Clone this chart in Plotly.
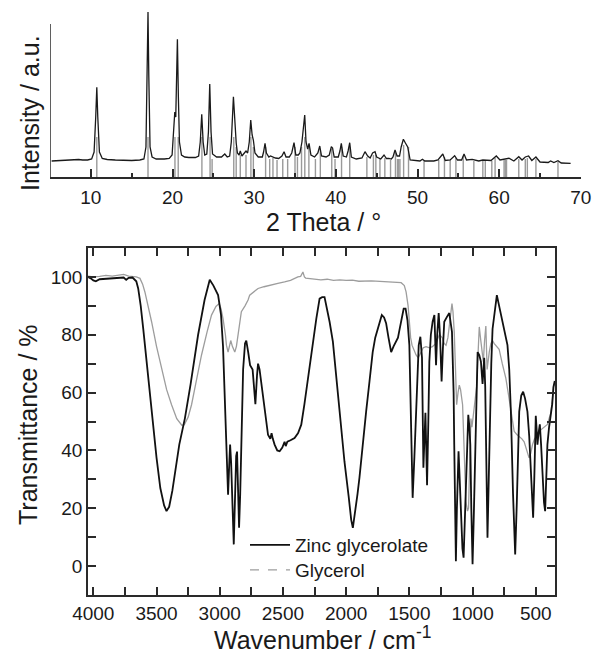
import plotly.graph_objects as go

# ---------------- XRD data (2 Theta / degree, intensity a.u.) ----------------
xrd_2theta = [5.2, 6, 7, 8, 8.5, 9, 9.6, 10.1, 10.4, 10.6, 10.73, 10.85, 11.05, 11.4, 12, 13, 14, 15, 16, 16.5,
              16.75, 16.9, 17.0, 17.1, 17.25, 17.5, 18, 19, 19.6, 19.95, 20.15, 20.28, 20.4, 20.5, 20.6, 20.72,
              20.85, 21.1, 21.5, 22, 22.8, 23.2, 23.4, 23.58, 23.75, 23.95, 24.2, 24.4, 24.56, 24.72, 24.9, 25.4,
              26, 26.4, 26.7, 27.0, 27.2, 27.46, 27.65, 27.8, 27.95, 28.15, 28.3, 28.5, 28.8, 29.0, 29.2, 29.4,
              29.58, 29.75, 29.9, 30.1, 30.5, 31.0, 31.15, 31.33, 31.5, 31.8, 32.0, 32.3, 32.6, 33.0, 33.4, 33.66,
              33.9, 34.3, 34.6, 34.88, 35.1, 35.4, 35.6, 35.85, 36.05, 36.19, 36.35, 36.55, 36.72, 36.95, 37.4,
              37.8, 38.03, 38.25, 38.8, 39.2, 39.45, 39.6, 39.8, 40.3, 40.5, 40.67, 40.9, 41.3, 41.5, 41.7, 41.9,
              42.5, 43.2, 43.57, 43.9, 44.2, 44.5, 44.8, 45.0, 45.5, 45.9, 46.2, 46.5, 46.8, 47.0, 47.25, 47.5,
              47.8, 48.0, 48.27, 48.5, 48.8, 49.1, 49.5, 50.3, 50.6, 50.9, 52, 52.5, 53.1, 53.4, 54.0, 54.55,
              54.9, 55.4, 55.7, 56.0, 56.7, 57.5, 58.0, 58.5, 59.0, 59.65, 60.1, 61.2, 61.8, 62.4, 62.8, 63.2,
              63.6, 64.0, 64.5, 65.0, 66.0, 66.3, 66.7, 67.2, 67.6, 68.75]
xrd_intensity = [16, 16.5, 17, 17, 17.5, 17, 17, 18, 25, 60, 89.7, 60, 25, 18.5, 17.5, 17, 16.5, 16.5, 17, 18,
                 30, 100, 165, 100, 30, 20, 18, 18, 18.5, 22, 45, 65, 60, 90, 137.7, 80,
                 35, 22, 20, 19.5, 19.5, 21, 35, 62.7, 35, 22, 23, 45, 93, 45, 23, 20,
                 20, 23, 20, 21, 35, 80.3, 45, 34, 24, 22, 26, 21, 24, 26, 24, 35,
                 57, 42, 37, 24, 20, 20, 25, 33.7, 24, 20, 21, 20, 19, 18.5, 21, 25.3,
                 20, 20, 24, 34.3, 22, 22, 24, 35, 55, 62, 35, 28, 33.7, 22, 20,
                 24, 31, 21, 20, 22, 30.3, 29, 20, 20, 26, 33.7, 21, 20, 26, 34.3, 20,
                 18, 19, 25.3, 21, 19, 24, 25.3, 20, 18, 22, 18.5, 18.7, 18, 20, 27, 21,
                 21, 30, 37.7, 34.3, 30, 17, 16.5, 16, 17.7, 16, 16, 17, 23, 16.5, 17, 21.3,
                 17, 17, 23, 17, 17.7, 16, 17, 17, 16.5, 21, 17, 18.7, 16, 20.3, 17, 20,
                 21, 16.5, 20, 15, 14.5, 16, 14.5, 16.3, 14, 13.7]

# reference pattern sticks
ref_2theta = [10.73, 17.0, 20.3, 20.7, 23.6, 24.6, 24.85, 27.5, 27.8, 28.3, 29.0, 29.6, 29.9, 31.4, 31.9, 32.3,
              32.8, 33.5, 34.1, 35.0, 35.3, 35.8, 36.2, 36.7, 37.5, 38.1, 39.5, 39.9, 40.7, 41.7, 43.8, 44.6,
              44.9, 45.4, 46.0, 46.7, 47.3, 47.55, 47.7, 47.85, 48.3, 48.9, 50.8, 52.6, 53.3, 54.0, 54.7, 55.6,
              56.9, 58.0, 58.3, 59.1, 59.5, 60.6, 60.75, 60.9, 62.4, 63.2, 63.45, 64.5, 67.2]
ref_height = [40, 40, 40, 40, 40, 40, 18, 40, 30, 22, 22, 40, 30, 30, 18, 19,
              17, 18, 18, 30, 20, 30, 40, 30, 18, 28, 28, 18, 30, 30, 20, 22,
              22, 18, 19, 17, 24, 18, 18, 18, 32, 30, 16, 17, 20, 17, 19, 21,
              16, 16, 16, 16, 19, 17, 17, 17, 18, 18, 19, 18, 15]

# ---------------- IR data (wavenumber / cm-1, transmittance / %) ----------------
zn_wn = [4045, 4020, 4000, 3980, 3950, 3900, 3850, 3800, 3760, 3740, 3720, 3690, 3660, 3645, 3625, 3605, 3580,
         3552, 3525, 3500, 3470, 3440, 3421, 3400, 3375, 3355, 3320, 3276, 3230, 3171, 3120, 3079, 3050, 3013,
         2990, 2974, 2962, 2950, 2940, 2934, 2925, 2918, 2910, 2900, 2889, 2880, 2870, 2863, 2855, 2847, 2838,
         2828, 2815, 2800, 2790, 2775, 2760, 2740, 2725, 2718, 2705, 2697, 2685, 2670, 2658, 2640, 2618, 2600,
         2590, 2580, 2566, 2545, 2526, 2505, 2487, 2478, 2465, 2440, 2408, 2380, 2355, 2330, 2303, 2270, 2236,
         2210, 2190, 2171, 2150, 2131, 2105, 2085, 2066, 2040, 2013, 1980, 1960, 1947, 1930, 1910, 1895, 1870,
         1842, 1815, 1790, 1770, 1750, 1730, 1718, 1700, 1684, 1665, 1644, 1625, 1605, 1590, 1579, 1560, 1545,
         1530, 1515, 1500, 1488, 1474, 1460, 1447, 1435, 1426, 1413, 1400, 1389, 1380, 1373, 1366, 1360, 1350,
         1342, 1330, 1316, 1302, 1295, 1289, 1280, 1268, 1258, 1245, 1235, 1224, 1205, 1184, 1163, 1150, 1145,
         1138, 1132, 1124, 1118, 1111, 1100, 1090, 1080, 1071, 1062, 1053, 1043, 1034, 1025, 1018, 1010, 1000,
         990, 979, 970, 960, 947, 934, 921, 915, 908, 900, 893, 882, 872, 863, 852, 842, 825, 808, 790, 763,
         740, 724, 710, 697, 680, 663, 650, 640, 631, 615, 600, 585, 566, 552, 539, 530, 521, 512, 505, 500,
         493, 487, 478, 468, 458, 447, 435, 426, 418, 408, 395, 381, 370, 360, 350]
zn_t = [100, 99.5, 98.8, 98.5, 99.2, 99.3, 99.6, 99.5, 99.8, 99.0, 99.7, 99.8, 98.5, 96, 90, 82, 71,
        59, 47, 37.5, 27, 21, 19, 20.5, 26, 31.6, 42, 51, 63, 80, 92, 99, 97, 93.7,
        87, 76, 60, 40, 27, 24.7, 35, 42, 36, 18, 7.5, 22, 38, 39.6, 28, 13.3, 25,
        50, 68, 77, 78, 74, 69.5, 68, 58, 56, 66, 70, 68, 63, 59, 52, 45.4, 44,
        46, 44, 42, 40, 39.7, 41, 43, 41.5, 43, 43.5, 44.3, 46, 48.9, 56, 65, 76, 85.6,
        92.5, 93, 93, 89, 84.5, 77.6, 68, 59, 47, 36, 24, 16, 13.2, 18, 25, 30.5, 42,
        53.4, 64, 74, 79, 82.2, 85.5, 86.8, 86, 84, 79, 74, 76, 78, 79, 81.5, 86, 89,
        89, 85, 76.4, 55, 23.6, 38, 53, 70, 76.4, 79.3, 72, 34, 50, 53, 40, 28, 50,
        70.7, 80, 84.5, 86.8, 78, 69.5, 80, 87.5, 80, 63.8, 75, 84.5, 86, 87.5, 81, 60, 42,
        20, 1.7, 20, 35, 39.7, 28, 15.5, 6, 2.9, 15, 31, 45, 52.3, 48, 42, 20, 0.6,
        18, 42, 60, 74, 73, 70.7, 63, 68, 72, 62, 45, 9.8, 30, 53.5, 70, 82, 89, 93.7, 90, 84.5,
        80, 76.4, 68, 53.4, 25, 4, 22, 40, 53.4, 59, 60.3, 58, 53.4, 45, 35, 25, 16.7, 30, 45, 52,
        47, 42, 46, 49, 42, 31, 22, 19, 30, 42, 48, 52, 56, 62, 64]

gly_wn = [4045, 4000, 3950, 3900, 3850, 3800, 3760, 3720, 3660, 3631, 3610, 3592, 3565, 3539, 3500, 3460, 3420,
          3381, 3340, 3300, 3280, 3250, 3223, 3190, 3144, 3100, 3065, 3030, 3005, 2990, 2974, 2955, 2947, 2934,
          2925, 2913, 2900, 2881, 2868, 2855, 2840, 2829, 2800, 2776, 2763, 2730, 2697, 2650, 2592, 2540, 2487,
          2440, 2382, 2360, 2342, 2330, 2320, 2300, 2250, 2200, 2150, 2100, 2050, 2000, 1950, 1900, 1800, 1700,
          1600, 1565, 1540, 1526, 1510, 1500, 1490, 1479, 1460, 1447, 1430, 1410, 1390, 1368, 1340, 1318, 1290,
          1263, 1240, 1225, 1210, 1195, 1184, 1170, 1163, 1155, 1145, 1135, 1126, 1115, 1105, 1095, 1079, 1065,
          1053, 1040, 1032, 1020, 1013, 1005, 995, 980, 968, 955, 947, 935, 925, 915, 905, 895, 885, 875, 868,
          855, 842, 830, 816, 800, 790, 765, 737, 715, 697, 680, 671, 650, 631, 610, 592, 570, 553, 540, 526,
          510, 490, 474, 450, 434, 420, 408, 395, 381, 370, 360, 350]
gly_t = [100.3, 100, 100.2, 100.5, 100.3, 100.6, 100.9, 100.3, 100, 99.5, 97.5, 94.8, 90, 84.5, 76, 68.4, 61,
         55.8, 51, 48.7, 48.9, 51.5, 55.8, 63, 73, 81, 86.8, 89.8, 90.8, 89, 85.6, 80, 76.4, 74,
         76, 78, 76, 74, 76, 79.5, 85, 88, 90, 92, 93.7, 95, 96, 96.6, 97.1, 97.8, 98.3,
         98.8, 100, 100.2, 101.7, 100, 99.6, 99.5, 99.2, 99, 99.2, 98.8, 99, 98.8, 98.9, 98.5, 98.6, 98.3,
         98, 98, 97, 94.8, 90, 84.5, 79, 76.4, 74, 73, 72, 74, 75.5, 75.9, 75.5, 75.9, 77,
         80, 79, 77, 76.4, 79, 83, 89, 90.8, 88, 81, 68, 55.8, 60, 62.6, 61, 55.8, 38,
         22.4, 19, 20, 40, 51, 48, 52, 58, 62, 75, 82.7, 78, 73, 70.7, 78, 83, 68, 72, 74,
         77, 78, 77, 76.4, 75.5, 75, 70, 65, 59, 53.4, 49, 46.6, 45.5, 44.8, 44, 43, 40, 37.4, 39, 42,
         44, 45, 46.6, 47.5, 48, 48.5, 49, 51, 53, 57, 62, 63]

FONT = "Liberation Sans, Arial, Helvetica, sans-serif"
AXC = "#2a2a2a"
TXT = "#1a1a1a"
W, H = 592, 655

fig = go.Figure()

# reference sticks (gray)
stick_x, stick_y = [], []
for p, h in zip(ref_2theta, ref_height):
    stick_x += [p, p, None]
    stick_y += [0, h, None]
fig.add_trace(go.Scatter(x=stick_x, y=stick_y, mode="lines", line=dict(color="#9a9a9a", width=1.4),
                         showlegend=False, hoverinfo="skip", xaxis="x", yaxis="y"))
fig.add_trace(go.Scatter(x=xrd_2theta, y=xrd_intensity, mode="lines", line=dict(color="#1a1a1a", width=1.3),
                         showlegend=False, xaxis="x", yaxis="y"))

# IR traces
fig.add_trace(go.Scatter(x=gly_wn, y=gly_t, mode="lines", line=dict(color="#9d9d9d", width=1.3),
                         showlegend=False, xaxis="x2", yaxis="y2"))
fig.add_trace(go.Scatter(x=zn_wn, y=zn_t, mode="lines", line=dict(color="#111111", width=1.8),
                         name="Zinc glycerolate", xaxis="x2", yaxis="y2", legend="legend"))
fig.add_trace(go.Scatter(x=[None], y=[None], mode="lines", line=dict(color="#9d9d9d", width=1.3, dash="dash"),
                         name="Glycerol", xaxis="x2", yaxis="y2", legend="legend2"))

leg_common = dict(xanchor="left", yanchor="middle", bgcolor="rgba(0,0,0,0)",
                  font=dict(size=19, family=FONT, color=TXT), itemwidth=40)

fig.update_layout(
    width=W, height=H,
    margin=dict(l=0, r=0, t=0, b=0, autoexpand=False),
    paper_bgcolor="white", plot_bgcolor="white",
    font=dict(family=FONT, color=TXT, size=19),
    showlegend=True,
    legend=dict(x=245 / W, y=1 - 545 / H, **leg_common),
    legend2=dict(x=245 / W, y=1 - 570 / H, **leg_common),
    xaxis=dict(domain=[50 / W, 581 / W], range=[5, 70.02], tick0=10, dtick=10, automargin=False,
               showline=True, linecolor=AXC, linewidth=1.5, ticks="inside", ticklen=8, tickwidth=1.5,
               tickcolor=AXC, showgrid=False, zeroline=False, ticklabelstandoff=2,
               minor=dict(ticks="inside", ticklen=4, tickwidth=1.5, dtick=5, tick0=5, tickcolor=AXC),
               tickfont=dict(size=19)),
    yaxis=dict(domain=[1 - 177 / H, 1 - 7 / H], range=[0, 170], visible=False, fixedrange=True,
               automargin=False),
    xaxis2=dict(domain=[88 / W, 555 / W], range=[4042, 348], tick0=0, dtick=500, automargin=False,
                showline=True, mirror="ticks", linecolor=AXC, linewidth=1.5, ticks="inside", ticklen=8,
                tickwidth=1.5, tickcolor=AXC, showgrid=False, zeroline=False, ticklabelstandoff=0,
                minor=dict(ticks="inside", ticklen=8, tickwidth=1.5, dtick=250, tickcolor=AXC),
                tickfont=dict(size=19), anchor="y2"),
    yaxis2=dict(domain=[1 - 595 / H, 1 - 248 / H], range=[-10, 110], tick0=0, dtick=20, automargin=False,
                showline=True, mirror="ticks", linecolor=AXC, linewidth=1.5, ticks="inside", ticklen=8,
                tickwidth=1.5, tickcolor=AXC, showgrid=False, zeroline=False, ticklabelstandoff=0,
                minor=dict(ticks="inside", ticklen=8, tickwidth=1.5, dtick=10, tickcolor=AXC),
                tickfont=dict(size=19), anchor="x2"),
)

# left axis line of XRD panel (shorter than the plotting area)
fig.add_shape(type="line", xref="x", yref="y", x0=5, x1=5, y0=0, y1=153,
              line=dict(color=AXC, width=1.5))

# axis titles
titles = [
    ("Intensity / a.u.", 30, 113, -90),
    ("2 Theta / °", 323, 222, 0),
    ("Transmittance / %", 28, 425, -90),
    ("Wavenumber / cm<sup>-1</sup>", 322, 638, 0),
]
for txt, px, py, ang in titles:
    fig.add_annotation(text=txt, xref="paper", yref="paper", x=px / W, y=1 - py / H,
                       showarrow=False, textangle=ang, font=dict(size=25, family=FONT, color=TXT),
                       xanchor="center", yanchor="middle", borderpad=0)

fig.write_html("out.html", config={"displayModeBar": False},
               post_script="document.body.style.margin='0px';document.body.style.padding='0px';")
